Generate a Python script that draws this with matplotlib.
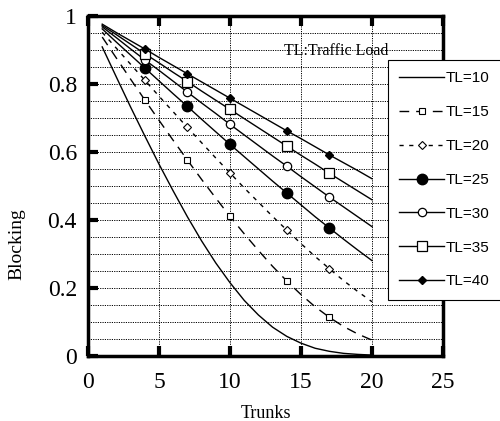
import matplotlib.pyplot as plt

trunks = list(range(1, 21))
tl10 = [0.909, 0.820, 0.732, 0.647, 0.564, 0.485, 0.409, 0.338, 0.273, 0.215,
        0.163, 0.120, 0.084, 0.057, 0.037, 0.022, 0.013, 0.007, 0.004, 0.002]
tl15 = [0.938, 0.876, 0.814, 0.753, 0.693, 0.634, 0.576, 0.519, 0.464, 0.410,
        0.359, 0.310, 0.263, 0.220, 0.180, 0.144, 0.113, 0.086, 0.064, 0.046]
tl20 = [0.952, 0.905, 0.858, 0.811, 0.764, 0.718, 0.672, 0.627, 0.582, 0.538,
        0.494, 0.452, 0.410, 0.370, 0.330, 0.292, 0.256, 0.221, 0.189, 0.159]
tl25 = [0.962, 0.923, 0.885, 0.847, 0.809, 0.771, 0.734, 0.696, 0.659, 0.622,
        0.586, 0.550, 0.514, 0.479, 0.444, 0.409, 0.376, 0.343, 0.311, 0.280]
tl30 = [0.968, 0.936, 0.903, 0.871, 0.840, 0.808, 0.776, 0.744, 0.713, 0.681,
        0.650, 0.619, 0.588, 0.558, 0.527, 0.497, 0.467, 0.438, 0.409, 0.380]
tl35 = [0.972, 0.945, 0.917, 0.889, 0.862, 0.834, 0.807, 0.779, 0.752, 0.725,
        0.698, 0.671, 0.644, 0.617, 0.590, 0.564, 0.537, 0.511, 0.485, 0.459]
tl40 = [0.976, 0.951, 0.927, 0.903, 0.878, 0.854, 0.830, 0.806, 0.782, 0.758,
        0.734, 0.710, 0.686, 0.662, 0.639, 0.615, 0.591, 0.568, 0.545, 0.521]

xticks = [0, 5, 10, 15, 20, 25]
yticks = [0, 0.2, 0.4, 0.6, 0.8, 1.0]
ytick_labels = ['0', '0.2', '0.4', '0.6', '0.8', '1']

# marked trunk counts: 4, 7, 10, 14, 17
marks = [3, 6, 9, 13, 16]

fig = plt.figure(figsize=(5, 4.21), dpi=100)
ax = fig.add_axes([0.176, 0.155, 0.710, 0.807])

lw = 1.0
ax.plot(trunks, tl10, '-', color='black', lw=lw, label='TL=10')
ax.plot(trunks, tl15, color='black', lw=lw, ls=(0, (7, 5)), marker='s', ms=5,
        mfc='white', mec='black', mew=0.8, markevery=marks, label='TL=15')
ax.plot(trunks, tl20, color='black', lw=lw, ls=(0, (3, 4)), marker='D', ms=4,
        mfc='white', mec='black', mew=0.8, markevery=marks, label='TL=20')
ax.plot(trunks, tl25, '-', color='black', lw=lw, marker='o', ms=7.5,
        mfc='black', mec='black', markevery=marks, label='TL=25')
ax.plot(trunks, tl30, '-', color='black', lw=lw, marker='o', ms=6,
        mfc='white', mec='black', mew=0.9, markevery=marks, label='TL=30')
ax.plot(trunks, tl35, '-', color='black', lw=lw, marker='s', ms=6.5,
        mfc='white', mec='black', mew=0.9, markevery=marks, label='TL=35')
ax.plot(trunks, tl40, '-', color='black', lw=lw, marker='D', ms=4.5,
        mfc='black', mec='black', markevery=marks, label='TL=40')

ax.set_xlim(0, 25)
ax.set_ylim(0, 1)
ax.set_xticks(xticks)
ax.set_xticklabels([str(t) for t in xticks])
ax.set_yticks(yticks)
ax.set_yticklabels(ytick_labels)
ax.set_yticks([i * 0.05 for i in range(21)], minor=True)

ax.grid(True, which='both', axis='y', ls=(0, (1.2, 1.2)), color='black', lw=0.7)
ax.grid(True, which='major', axis='x', ls=(0, (1.2, 1.2)), color='black', lw=0.7)

for s in ax.spines.values():
    s.set_linewidth(2.5)
ax.tick_params(which='major', direction='in', length=7, width=3,
               top=True, right=False, labelsize=17)
ax.tick_params(axis='x', pad=12)
ax.tick_params(axis='y', pad=8)
ax.tick_params(which='minor', length=0)
for lab in ax.get_xticklabels() + ax.get_yticklabels():
    lab.set_fontfamily('Liberation Serif')

ax.set_xlabel('Trunks', fontsize=13, family='Liberation Serif', labelpad=8)
ax.set_ylabel('Blocking', fontsize=14, family='Liberation Serif')
ax.yaxis.set_label_coords(-0.175, 0.33)

ax.text(13.8, 0.897, 'TL:Traffic Load', fontsize=11.5, family='Liberation Serif',
        va='center', ha='left')

# frame runs past the right edge of the figure, as in the original
leg = ax.legend(loc='upper left', bbox_to_anchor=(0.845, 0.0, 0.36, 0.871),
                mode='expand', frameon=True,
                fancybox=False, edgecolor='black', framealpha=1,
                prop={'family': 'Liberation Sans', 'size': 11},
                handlelength=2.9, labelspacing=1.3, borderpad=0.75,
                handletextpad=0.15, borderaxespad=0)
leg.get_frame().set_linewidth(0.8)

fig.savefig('out.png', dpi=100)
